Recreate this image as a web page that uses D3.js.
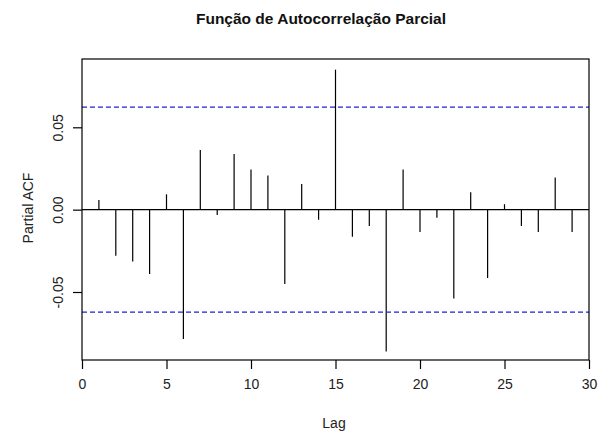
<!DOCTYPE html>
<html>
<head>
<meta charset="utf-8">
<script src="https://cdn.jsdelivr.net/npm/d3@7"></script>
<style>
  body { margin: 0; background: #fff; }
  text { font-family: "Liberation Sans", Arial, sans-serif; fill: #111; }
</style>
</head>
<body>
<div id="chart"></div>
<script>
// lags 1..29 and the partial autocorrelation
var lags = [1, 2, 3, 4, 5, 6, 7, 8, 9, 10, 11, 12, 13, 14, 15,
            16, 17, 18, 19, 20, 21, 22, 23, 24, 25, 26, 27, 28, 29];
var pacf = [0.0059, -0.0280, -0.0315, -0.0390, 0.0093, -0.0785, 0.0362, -0.0032, 0.0338, 0.0244,
            0.0207, -0.0451, 0.0155, -0.0061, 0.0850, -0.0165, -0.0099, -0.0861, 0.0244, -0.0136,
            -0.0049, -0.0540, 0.0106, -0.0415, 0.0033, -0.0099, -0.0136, 0.0195, -0.0136];
var ciBound = 0.0622; // significance limits, +/-
var xTicks = [0, 5, 10, 15, 20, 25, 30];
var yTicks = [-0.05, 0, 0.05];
var yTickLabels = ["-0.05", "0.00", "0.05"];

var width = 608, height = 432;
// plot region (note: "top" is reserved on window, so use box* names)
var boxLeft = 82, boxRight = 589, boxTop = 59, boxBottom = 360;

var svg = d3.select("#chart").append("svg")
	.attr("width", width)
	.attr("height", height);

var x = d3.scaleLinear().domain([0, 30]).range([boxLeft, boxRight]);
var y = d3.scaleLinear().domain([-0.05, 0.05]).range([292, 127.3]);

// zero line
svg.append("line")
	.attr("x1", boxLeft).attr("x2", boxRight)
	.attr("y1", y(0)).attr("y2", y(0))
	.style("stroke", "#000").style("stroke-width", 1.2);

// spikes
svg.selectAll(".spike")
	.data(lags)
	.enter().append("line")
	.attr("class", "spike")
	.attr("x1", function(d) { return x(d); })
	.attr("x2", function(d) { return x(d); })
	.attr("y1", y(0))
	.attr("y2", function(d, i) { return y(pacf[i]); })
	.style("stroke", "#000")
	.style("stroke-width", 1.2);

// confidence limits
svg.selectAll(".ci")
	.data([ciBound, -ciBound])
	.enter().append("line")
	.attr("class", "ci")
	.attr("x1", boxLeft).attr("x2", boxRight)
	.attr("y1", function(d) { return y(d); })
	.attr("y2", function(d) { return y(d); })
	.style("stroke", "#2222cc")
	.style("stroke-width", 1.2)
	.style("stroke-dasharray", "5,3");

// box
svg.append("rect")
	.attr("x", boxLeft).attr("y", boxTop)
	.attr("width", boxRight - boxLeft).attr("height", boxBottom - boxTop)
	.style("fill", "none").style("stroke", "#000").style("stroke-width", 1.2);

// x axis
var xAxis = svg.append("g")
	.attr("transform", "translate(0," + boxBottom + ")")
	.call(d3.axisBottom(x).tickValues(xTicks).tickSize(9).tickPadding(10));
xAxis.select(".domain").remove();
xAxis.selectAll("line").style("stroke", "#000").style("stroke-width", 1.2);
xAxis.selectAll("text")
	.style("font-size", "14px")
	.style("font-family", "Liberation Sans, Arial, sans-serif")
	.style("fill", "#222");

// y axis, labels rotated like R
var yAxis = svg.append("g")
	.attr("transform", "translate(" + boxLeft + ",0)")
	.call(d3.axisLeft(y).tickValues(yTicks).tickSize(9)
		.tickFormat(function(d, i) { return yTickLabels[i]; }));
yAxis.select(".domain").remove();
yAxis.selectAll("line").style("stroke", "#000").style("stroke-width", 1.2);
yAxis.selectAll("text")
	.attr("x", null).attr("dy", null)
	.attr("text-anchor", "middle")
	.attr("transform", "translate(-19,0) rotate(-90)")
	.style("font-size", "14px")
	.style("font-family", "Liberation Sans, Arial, sans-serif")
	.style("fill", "#222");

// titles
svg.append("text")
	.attr("x", 321).attr("y", 24)
	.attr("text-anchor", "middle")
	.style("font-size", "15.5px")
	.style("font-weight", "bold")
	.text("Função de Autocorrelação Parcial");

svg.append("text")
	.attr("x", 334).attr("y", 428)
	.attr("text-anchor", "middle")
	.style("font-size", "14px")
	.style("fill", "#222")
	.text("Lag");

svg.append("text")
	.attr("transform", "translate(33," + 208 + ") rotate(-90)")
	.attr("text-anchor", "middle")
	.style("font-size", "14px")
	.style("fill", "#222")
	.text("Partial ACF");
</script>
</body>
</html>
